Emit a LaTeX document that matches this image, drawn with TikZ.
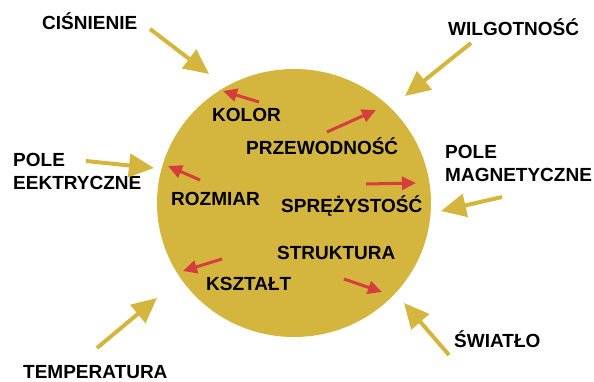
\documentclass[tikz,border=0pt]{standalone}
\usepackage{fontspec}
\setmainfont{Liberation Sans}
\usetikzlibrary{arrows.meta}
\definecolor{gold}{RGB}{212,181,62}
\definecolor{redarr}{RGB}{214,62,62}
\begin{document}
\begin{tikzpicture}[x=1pt,y=-1pt,
  lbl/.style={anchor=base west,inner sep=0pt,font=\fontsize{19}{23.5}\selectfont\bfseries,align=left},
  outarr/.style={draw=gold,line width=4pt,-{Triangle[length=25pt,width=23pt]}},
  inarr/.style={draw=redarr,line width=3pt,-{Triangle[length=14pt,width=13pt]}}]
\useasboundingbox (0,0) rectangle (594,381);
\fill[gold] (294,203) ellipse [x radius=137pt,y radius=134pt];
% outer labels
\node[lbl] (cis) at (42,29) {CIŚNIENIE};
\node[lbl] (wil) at (448,35) {WILGOTNOŚĆ};
\node[lbl,anchor=north west] (pe) at (13,153) {POLE\\EEKTRYCZNE};
\node[lbl,anchor=north west] (pm) at (445,145) {POLE\\MAGNETYCZNE};
\node[lbl] (tem) at (23,378) {TEMPERATURA};
\node[lbl] (swi) at (454,347) {ŚWIATŁO};
% inner labels
\node[lbl] (kol) at (212,121) {KOLOR};
\node[lbl] (prz) at (246,154) {PRZEWODNOŚĆ};
\node[lbl] (roz) at (171,205) {ROZMIAR};
\node[lbl] (spr) at (281,212) {SPRĘŻYSTOŚĆ};
\node[lbl] (str) at (277,259) {STRUKTURA};
\node[lbl] (ksz) at (206,290) {KSZTAŁT};
% arrow end points
\coordinate (a1s) at (150,29);  \coordinate (a1e) at (209,74);
\coordinate (a2s) at (471,43);  \coordinate (a2e) at (405,96);
\coordinate (a3s) at (86,161);  \coordinate (a3e) at (154,168);
\coordinate (a4s) at (502,197); \coordinate (a4e) at (441,211);
\coordinate (a5s) at (97,348);  \coordinate (a5e) at (157,298);
\coordinate (a6s) at (449,355); \coordinate (a6e) at (404,303);
\draw[outarr] (a1s) -- (a1e);
\draw[outarr] (a2s) -- (a2e);
\draw[outarr] (a3s) -- (a3e);
\draw[outarr] (a4s) -- (a4e);
\draw[outarr] (a5s) -- (a5e);
\draw[outarr] (a6s) -- (a6e);
\coordinate (r1s) at (259,102); \coordinate (r1e) at (223,91);
\coordinate (r2s) at (327,132); \coordinate (r2e) at (376,110);
\coordinate (r3s) at (200,180); \coordinate (r3e) at (168,166);
\coordinate (r4s) at (366,184); \coordinate (r4e) at (416,183);
\coordinate (r5s) at (222,259); \coordinate (r5e) at (183,271);
\coordinate (r6s) at (344,279); \coordinate (r6e) at (382,292);
\draw[inarr] (r1s) -- (r1e);
\draw[inarr] (r2s) -- (r2e);
\draw[inarr] (r3s) -- (r3e);
\draw[inarr] (r4s) -- (r4e);
\draw[inarr] (r5s) -- (r5e);
\draw[inarr] (r6s) -- (r6e);
\end{tikzpicture}
\end{document}
